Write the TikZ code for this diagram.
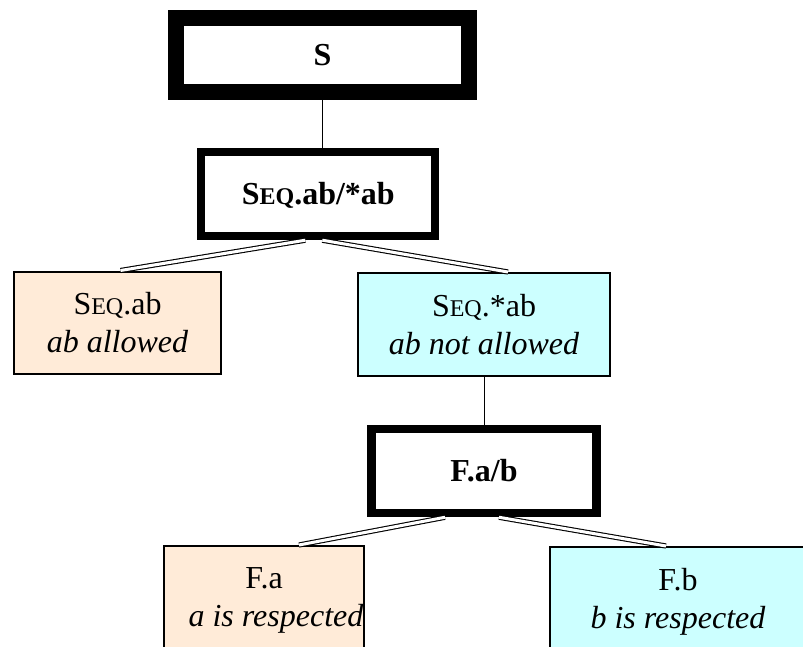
\documentclass[tikz,border=0pt]{standalone}
\usepackage{fontspec}
\setmainfont{Liberation Serif}
\definecolor{peach}{HTML}{FFEBD8}
\definecolor{paleCyan}{HTML}{CCFFFF}
\newcommand\smcap[1]{{\fontsize{24}{28}\selectfont #1}}
\begin{document}
\begin{tikzpicture}[x=1pt,y=-1pt,
  headbox/.style={draw=black, fill=white, font=\rmfamily\fontsize{32}{38}\selectfont\bfseries, text height=21.5pt, text depth=0pt, inner sep=0pt},
  leafbox/.style={draw=black, line width=2pt, align=center, font=\rmfamily\fontsize{32}{38}\selectfont, inner sep=0pt},
  tie/.style={line width=1pt},
  twin/.style={double, double distance=3pt, line width=1.1pt}]
\useasboundingbox (0,0) rectangle (803,646);
\node[headbox, line width=16pt, minimum width=293pt, minimum height=74pt] (s) at (322.5,55) {S};
\node[headbox, line width=8pt, minimum width=234pt, minimum height=84pt] (seq) at (318.3,194.2) {S\smcap{EQ}.ab/*ab};
\node[leafbox, fill=peach, minimum width=207pt, minimum height=102pt] (seqab) at (117.5,322.5) {S\smcap{EQ}.ab\\\textit{ab allowed}};
\node[leafbox, fill=paleCyan, minimum width=252pt, minimum height=103pt] (seqnot) at (484,324.5) {S\smcap{EQ}.*ab\\\textit{ab not allowed}};
\node[headbox, line width=8.5pt, minimum width=225pt, minimum height=84pt] (fab) at (484,471) {F.a/b};
\node[leafbox, fill=peach, minimum width=200pt, minimum height=102pt] (fa) at (264,597) {F.a\\\smash{\hspace*{24pt}\textit{a is respected}}};
\node[leafbox, fill=paleCyan, minimum width=256pt, minimum height=102pt] (fb) at (678,598) {F.b\\\smash{\textit{b is respected}}};
\draw[tie] (s.south) -- (s.south |- seq.north);
\draw[tie] (seqnot.south) -- (fab.north);
\draw[twin] ([xshift=-13pt]seq.south) -- ([xshift=3pt]seqab.north);
\draw[twin] ([xshift=4pt]seq.south) -- ([xshift=24pt]seqnot.north);
\draw[twin] ([xshift=-39pt]fab.south) -- ([xshift=35pt]fa.north);
\draw[twin] ([xshift=15pt]fab.south) -- ([xshift=-12pt]fb.north);
\end{tikzpicture}
\end{document}
